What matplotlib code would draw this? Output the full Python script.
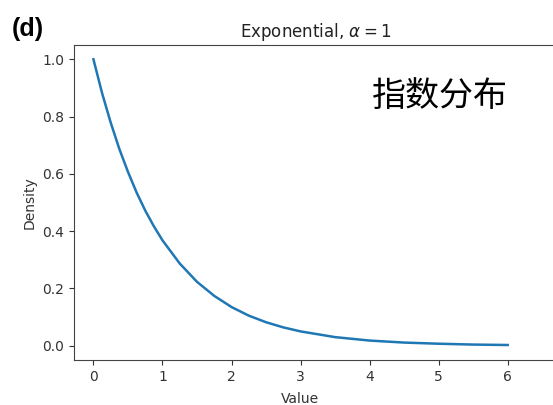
import matplotlib
matplotlib.use("Agg")
import matplotlib.pyplot as plt

# values
x_vals = [0, 0.125, 0.25, 0.375, 0.5, 0.625, 0.75, 0.875, 1.0, 1.25, 1.5,
          1.75, 2.0, 2.25, 2.5, 2.75, 3.0, 3.5, 4.0, 4.5, 5.0, 5.5, 6.0]
density = [1.0, 0.882, 0.779, 0.687, 0.607, 0.535, 0.472, 0.417, 0.368,
           0.287, 0.223, 0.174, 0.135, 0.105, 0.082, 0.064, 0.050, 0.030,
           0.018, 0.011, 0.007, 0.004, 0.0025]
x_ticks = [0, 1, 2, 3, 4, 5, 6]
y_ticks = [0.0, 0.2, 0.4, 0.6, 0.8, 1.0]

fig = plt.figure(figsize=(5.53, 4.05), dpi=100)
ax = fig.add_axes([0.134, 0.111, 0.874, 0.778])

ax.plot(x_vals, density, color="#1f77b4", lw=1.8)
ax.set_xlim(-0.28, 6.72)
ax.set_ylim(-0.05, 1.05)
ax.set_xticks(x_ticks)
ax.set_yticks(y_ticks)
ax.set_yticklabels([f"{v:.1f}" for v in y_ticks])
ax.tick_params(labelsize=10, colors="#333333", length=3.5)
for s in ax.spines.values():
    s.set_color("#444444")
ax.spines["right"].set_visible(False)

ax.set_title(r"Exponential, $\alpha = 1$", fontsize=12, color="#222222", pad=6)
ax.set_xlabel("Value", fontsize=10, color="#333333")
ax.xaxis.set_label_coords(0.468, -0.1)
ax.set_ylabel("Density", fontsize=10, color="#333333")

fig.text(0.022, 0.912, "(d)", fontsize=18, fontweight="bold",
         family="Liberation Sans", color="black")
fig.text(0.673, 0.738, "指数分布", fontsize=24.5,
         family=["Noto Sans CJK SC", "DejaVu Sans"], color="black")

fig.savefig("out.png", dpi=100)
